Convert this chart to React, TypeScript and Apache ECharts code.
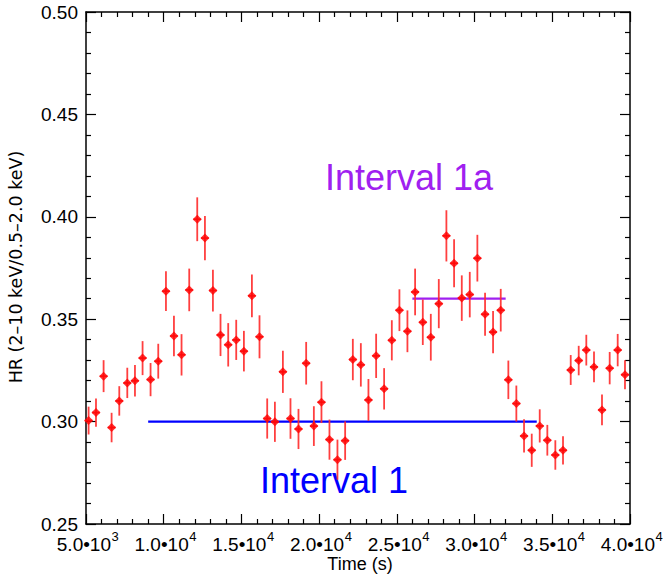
import React, { useEffect, useRef } from "react";
import * as echarts from "echarts";

// Time (s) of each hardness-ratio bin
const times = [
  5167, 5643, 6132, 6647, 7141, 7656, 8150, 8640, 9154, 9649,
  10144, 10658, 11147, 11642, 12157, 12652, 13166, 13655, 14150, 14665,
  15159, 15674, 16163, 16658, 17153, 17667, 18156, 18671, 19165, 19660,
  20149, 20664, 21178, 21673, 22168, 22683, 23172, 23667, 24181, 24676,
  25165, 25680, 26174, 26669, 27184, 27698, 28187, 28682, 29177, 29691,
  30180, 30675, 31190, 31684, 32173, 32688, 33183, 33678, 34192, 34681,
  35196, 35690, 36186, 36700, 37189, 37684, 38198, 38693, 39208, 39677,
];

// Hardness ratio HR (2-10 keV / 0.5-2.0 keV)
const hr = [
  0.3005, 0.3044, 0.3222, 0.2971, 0.3101, 0.3189, 0.3199, 0.331, 0.3205, 0.3295,
  0.3637, 0.3418, 0.3326, 0.3643, 0.3988, 0.3896, 0.364, 0.3423, 0.3375, 0.3399,
  0.3344, 0.3614, 0.3414, 0.3015, 0.2999, 0.3243, 0.3015, 0.2964, 0.3285, 0.2978,
  0.3095, 0.2912, 0.2814, 0.2907, 0.3303, 0.3277, 0.3106, 0.3321, 0.316, 0.3397,
  0.3544, 0.3441, 0.3633, 0.3485, 0.3412, 0.3576, 0.3907, 0.3773, 0.3603, 0.362,
  0.3798, 0.3524, 0.3437, 0.3544, 0.3204, 0.3088, 0.293, 0.286, 0.2979, 0.2909,
  0.2837, 0.286, 0.3252, 0.3298, 0.3349, 0.3267, 0.3057, 0.3261, 0.3349, 0.3229,
];

// 1-sigma errors on HR
const hrErr = [
  0.0068, 0.0069, 0.0078, 0.0072, 0.0072, 0.0074, 0.0077, 0.0083, 0.0081, 0.0085,
  0.0097, 0.0099, 0.0101, 0.0104, 0.0107, 0.0108, 0.0102, 0.0103, 0.0106, 0.0098,
  0.0099, 0.0104, 0.0105, 0.0098, 0.0098, 0.0103, 0.0099, 0.0098, 0.0104, 0.0097,
  0.0102, 0.0098, 0.0098, 0.0094, 0.0101, 0.0106, 0.0102, 0.0108, 0.0101, 0.0098,
  0.0102, 0.0102, 0.0114, 0.0111, 0.0114, 0.012, 0.0125, 0.0117, 0.0111, 0.0111,
  0.0114, 0.0105, 0.0103, 0.0104, 0.0094, 0.0088, 0.0081, 0.0081, 0.0081, 0.0075,
  0.0072, 0.0069, 0.0073, 0.0072, 0.0075, 0.0075, 0.0075, 0.0079, 0.0079, 0.0071,
];

// Half bin width (s)
const binHalfWidth = 250;

// Interval markers
const interval1X = [9000, 34000];
const interval1Y = 0.3;
const interval1aX = [26000, 32000];
const interval1aY = 0.36;

// Axis ticks
const xTickValues = [5000, 10000, 15000, 20000, 25000, 30000, 35000, 40000];
const xTickMantissa = ["5.0", "1.0", "1.5", "2.0", "2.5", "3.0", "3.5", "4.0"];
const xTickExponent = ["3", "4", "4", "4", "4", "4", "4", "4"];
const xTicks = { min: 5000, max: 40000, interval: 5000 };
const yTicks = { min: 0.25, max: 0.5, interval: 0.05 };

const FONT = "'Liberation Sans', Arial, Helvetica, sans-serif";

export default function App() {
  const ref = useRef<HTMLDivElement>(null);

  useEffect(() => {
    if (!ref.current) return;
    const chart = echarts.init(ref.current, null, { renderer: "svg" });

    const errData = times.map((t, i) => [t, hr[i], hrErr[i]]);
    const ptData = times.map((t, i) => [t, hr[i]]);

    const axisLine = { show: true, lineStyle: { color: "#000", width: 1.5 } };
    const axisTick = { show: true, inside: true, length: 10, lineStyle: { color: "#000", width: 1.2 } };
    const minorTick = { show: true, splitNumber: 5, length: 5, lineStyle: { color: "#000", width: 1.2 } };

    const annotations: any[] = [
      {
        type: "text",
        x: 409,
        y: 177,
        style: {
          text: "Interval 1a",
          fontFamily: FONT,
          fontSize: 36,
          fill: "#a020f0",
          align: "center",
          verticalAlign: "middle",
        },
      },
      {
        type: "text",
        x: 334,
        y: 480,
        style: {
          text: "Interval 1",
          fontFamily: FONT,
          fontSize: 36,
          fill: "#0000ff",
          align: "center",
          verticalAlign: "middle",
        },
      },
      {
        type: "text",
        x: 360,
        y: 564,
        style: {
          text: "Time (s)",
          fontFamily: FONT,
          fontSize: 18,
          fill: "#000",
          align: "center",
          verticalAlign: "middle",
        },
      },
      {
        type: "text",
        x: 16,
        y: 267,
        rotation: Math.PI / 2,
        style: {
          text: "HR (2\u201310 keV/0.5\u20132.0 keV)",
          fontFamily: "'DejaVu Sans', sans-serif",
          fontSize: 17.5,
          fill: "#000",
          align: "center",
          verticalAlign: "middle",
        },
      },
    ];

    const option: any = {
      animation: false,
      backgroundColor: "#ffffff",
      grid: { left: 86, right: 35, top: 12, bottom: 54, containLabel: false },
      xAxis: [
        {
          type: "value",
          position: "bottom",
          min: xTicks.min,
          max: xTicks.max,
          interval: xTicks.interval,
          axisLine,
          axisTick,
          minorTick,
          splitLine: { show: false },
          axisLabel: { show: false },
        },
        {
          type: "value",
          position: "top",
          min: xTicks.min,
          max: xTicks.max,
          interval: xTicks.interval,
          axisLine,
          axisTick,
          minorTick,
          splitLine: { show: false },
          axisLabel: { show: false },
        },
      ],
      yAxis: [
        {
          type: "value",
          position: "left",
          min: yTicks.min,
          max: yTicks.max,
          interval: yTicks.interval,
          axisLine,
          axisTick,
          minorTick,
          splitLine: { show: false },
          axisLabel: {
            margin: 8,
            fontFamily: FONT,
            fontSize: 19,
            color: "#000",
            formatter: (v: number) => v.toFixed(2),
          },
        },
        {
          type: "value",
          position: "right",
          min: yTicks.min,
          max: yTicks.max,
          interval: yTicks.interval,
          axisLine,
          axisTick,
          minorTick,
          splitLine: { show: false },
          axisLabel: { show: false },
        },
      ],
      series: [
        {
          type: "line",
          name: "Interval 1",
          data: interval1X.map((x) => [x, interval1Y]),
          showSymbol: false,
          symbol: "none",
          lineStyle: { color: "#0000ff", width: 2.2 },
          z: 1,
        },
        {
          type: "line",
          name: "Interval 1a",
          data: interval1aX.map((x) => [x, interval1aY]),
          showSymbol: false,
          symbol: "none",
          lineStyle: { color: "#a020f0", width: 2.2 },
          z: 1,
        },
        {
          type: "custom",
          name: "errors",
          data: errData,
          z: 2,
          renderItem: (params: any, api: any) => {
            const t = api.value(0);
            const v = api.value(1);
            const e = api.value(2);
            const top = api.coord([t, v + e]);
            const bot = api.coord([t, v - e]);
            const l = api.coord([t - binHalfWidth, v]);
            const r = api.coord([t + binHalfWidth, v]);
            const style = { stroke: "#ff2a2a", lineWidth: 1.8, opacity: 0.9 };
            return {
              type: "group",
              children: [
                { type: "line", shape: { x1: top[0], y1: top[1], x2: bot[0], y2: bot[1] }, style },
                { type: "line", shape: { x1: l[0], y1: l[1], x2: r[0], y2: r[1] }, style },
              ],
            };
          },
        },
        {
          type: "scatter",
          name: "HR",
          data: ptData,
          symbol: "diamond",
          symbolSize: 9,
          itemStyle: { color: "#ff0000" },
          z: 3,
        },
      ],
      graphic: annotations,
    };

    chart.setOption(option);

    // X tick labels placed at the axis' own pixel positions: mantissa•10 plus a raised exponent
    const tickLabels: any[] = [];
    xTickValues.forEach((v, i) => {
      const p = chart.convertToPixel({ gridIndex: 0 }, [v, yTicks.min]) as number[];
      tickLabels.push({
        type: "text",
        x: p[0] + 25,
        y: p[1] + 20,
        style: {
          text: `${xTickMantissa[i]}\u202210`,
          fontFamily: FONT,
          fontSize: 19,
          fill: "#000",
          align: "right",
          verticalAlign: "middle",
        },
      });
      tickLabels.push({
        type: "text",
        x: p[0] + 25.5,
        y: p[1] + 12,
        style: {
          text: xTickExponent[i],
          fontFamily: FONT,
          fontSize: 13,
          fill: "#000",
          align: "left",
          verticalAlign: "middle",
        },
      });
    });
    chart.setOption({ graphic: [...annotations, ...tickLabels] });

    return () => chart.dispose();
  }, []);

  return (
    <div
      ref={ref}
      style={{ position: "fixed", left: 0, top: 0, width: 665, height: 578, background: "#fff" }}
    />
  );
}
